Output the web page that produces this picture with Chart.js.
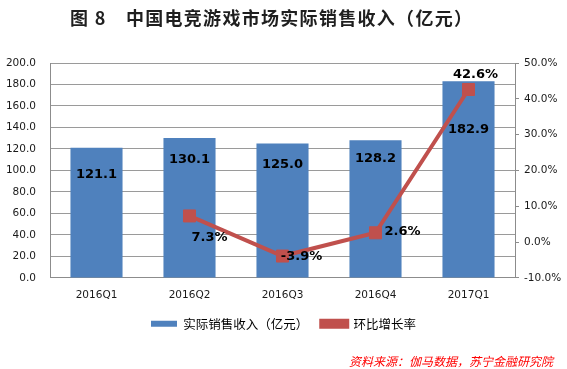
<!DOCTYPE html>
<html>
<head>
<meta charset="utf-8">
<script src="https://cdn.jsdelivr.net/npm/chart.js@4/dist/chart.umd.min.js"></script>
<style>
  html, body { margin: 0; padding: 0; background: #fff; }
  #wrap { width: 567px; height: 369px; }
</style>
</head>
<body>
<div id="wrap"><canvas id="myChart" width="567" height="369"></canvas></div>
<script>
let quarters = ['2016Q1', '2016Q2', '2016Q3', '2016Q4', '2017Q1'];
let revenue = [121.1, 130.1, 125.0, 128.2, 182.9];
let growth = [null, 7.3, -3.9, 2.6, 42.6];
let revenueTicks = [0, 20, 40, 60, 80, 100, 120, 140, 160, 180, 200];
let growthTicks = [-10, 0, 10, 20, 30, 40, 50];

let titleText = '图 8　中国电竞游戏市场实际销售收入（亿元）';
let sourceText = '资料来源：伽马数据，苏宁金融研究院';

// label offsets (pixels) as placed by hand in the original
let barLabelDrop = [27, 22, 21, 18, 48];
let lineLabelShift = [null, [20, 22], [19, 1], [27, -1], [7, -15]];

let labelPlugin = {
    id: 'valueLabels',
    afterDatasetsDraw(chart) {
        let ctx = chart.ctx;
        ctx.save();
        ctx.fillStyle = '#000';
        ctx.font = 'bold 13px "DejaVu Sans"';
        ctx.textAlign = 'center';
        ctx.textBaseline = 'middle';
        chart.getDatasetMeta(1).data.forEach((bar, i) => {
            ctx.fillText(revenue[i].toFixed(1), bar.x, bar.y + barLabelDrop[i]);
        });
        chart.getDatasetMeta(0).data.forEach((pt, i) => {
            if (growth[i] === null) return;
            let s = lineLabelShift[i];
            ctx.fillText(growth[i].toFixed(1) + '%', pt.x + s[0], pt.y + s[1]);
        });
        ctx.restore();
    },
    afterDraw(chart) {
        let ctx = chart.ctx;
        ctx.save();
        ctx.textBaseline = 'middle';
        // title, slightly spaced out like the original
        ctx.fillStyle = '#1F1F1F';
        ctx.font = 'bold 18px "Noto Sans CJK SC"';
        ctx.textAlign = 'left';
        ctx.letterSpacing = '1.3px';
        ctx.fillText(titleText, 70, 18);
        ctx.letterSpacing = '0px';
        // source note
        ctx.fillStyle = '#FF0000';
        ctx.font = 'italic 12px "Noto Sans CJK SC"';
        ctx.textAlign = 'right';
        ctx.fillText(sourceText, 553, 361);
        ctx.restore();
    }
};

let myChart = document.getElementById('myChart').getContext('2d');

let newChart = new Chart(myChart, {
    data: {
        labels: quarters,
        datasets: [{
            type: 'line',
            label: '环比增长率',
            data: growth,
            yAxisID: 'y1',
            borderColor: '#C0504D',
            backgroundColor: '#C0504D',
            borderWidth: 4,
            pointStyle: 'rect',
            pointRadius: 8.5,
            pointBorderWidth: 1,
            order: 0
        }, {
            type: 'bar',
            label: '实际销售收入（亿元）',
            data: revenue,
            yAxisID: 'y',
            backgroundColor: '#4F81BD',
            categoryPercentage: 1,
            barPercentage: 0.56,
            order: 1
        }]
    },
    options: {
        responsive: false,
        animation: false,
        layout: { padding: { left: 0, right: 0, top: 63, bottom: 29 } },
        scales: {
            x: {
                grid: { display: false, drawTicks: true, tickLength: 8 },
                border: { color: '#8C8C8C' },
                ticks: { color: '#1a1a1a', font: { family: 'DejaVu Sans', size: 10.5 }, padding: 3 }
            },
            y: {
                position: 'left',
                min: 0,
                max: 200,
                afterBuildTicks: s => { s.ticks = revenueTicks.map(v => ({ value: v })); },
                afterFit: s => { s.width = 50; },
                grid: { color: '#9A9A9A', drawTicks: false },
                border: { color: '#8C8C8C' },
                ticks: {
                    color: '#1a1a1a',
                    padding: 14,
                    font: { family: 'DejaVu Sans', size: 10.5 },
                    callback: v => v.toFixed(1)
                }
            },
            y1: {
                position: 'right',
                min: -10,
                max: 50,
                afterBuildTicks: s => { s.ticks = growthTicks.map(v => ({ value: v })); },
                afterFit: s => { s.width = 52; },
                grid: { drawOnChartArea: false, color: '#8C8C8C', tickLength: 4 },
                border: { color: '#8C8C8C' },
                ticks: {
                    color: '#1a1a1a',
                    padding: 5,
                    font: { family: 'DejaVu Sans', size: 10.5 },
                    callback: v => v.toFixed(1) + '%'
                }
            }
        },
        plugins: {
            title: { display: false },
            legend: {
                position: 'bottom',
                reverse: true,
                labels: {
                    color: '#000',
                    font: { family: '"Noto Sans CJK SC"', size: 12.5 },
                    boxWidth: 26,
                    boxHeight: 6,
                    padding: 13
                }
            },
            tooltip: { enabled: false }
        }
    },
    plugins: [labelPlugin]
});
</script>
</body>
</html>
